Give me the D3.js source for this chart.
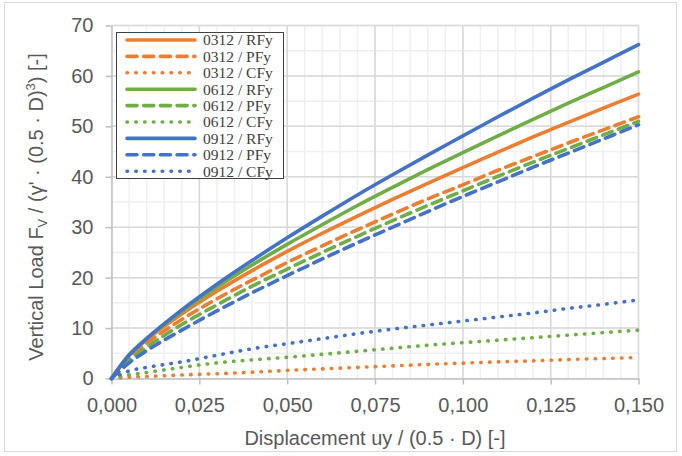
<!DOCTYPE html>
<html>
<head>
<meta charset="utf-8">
<script src="https://cdn.jsdelivr.net/npm/d3@7"></script>
<style>
  body { margin: 0; background: #fff; }
</style>
</head>
<body>
<svg></svg>
<script>
var width = 682;
var height = 456;
var plot = {'left': 111.5, 'right': 638.5, 'top': 25.5, 'bottom': 378.5}

// displacement values (x) shared by every series
var xs = [0, 0.005, 0.01, 0.02, 0.03, 0.04, 0.05, 0.06, 0.07, 0.08, 0.09, 0.10, 0.11, 0.12, 0.13, 0.14, 0.15]

var rfy0312 = [0, 4.6, 7.7, 12.8, 17.3, 21.4, 25.2, 28.8, 32.2, 35.5, 38.7, 41.8, 44.9, 47.9, 50.8, 53.6, 56.4]
var pfy0312 = [0, 4.2, 7.0, 11.7, 15.8, 19.5, 23.0, 26.3, 29.5, 32.6, 35.6, 38.4, 41.3, 44.0, 46.7, 49.3, 51.9]
var cfy0312 = [0, 0.25, 0.4, 0.7, 0.95, 1.25, 1.6, 1.9, 2.2, 2.5, 2.8, 3.05, 3.3, 3.5, 3.75, 3.95, 4.15]
var rfy0612 = [0, 4.7, 7.9, 13.3, 18.1, 22.5, 26.6, 30.5, 34.3, 37.9, 41.4, 44.8, 48.1, 51.4, 54.6, 57.7, 60.8]
var pfy0612 = [0, 3.6, 6.2, 10.7, 14.6, 18.3, 21.7, 25.0, 28.2, 31.3, 34.3, 37.2, 40.1, 42.9, 45.6, 48.3, 51.0]
var cfy0612 = [0, 0.7, 1.2, 2.2, 3.1, 3.7, 4.2, 4.8, 5.4, 6.0, 6.6, 7.1, 7.6, 8.1, 8.6, 9.1, 9.6]
var rfy0912 = [0, 4.6, 7.9, 13.6, 18.7, 23.4, 27.9, 32.2, 36.4, 40.4, 44.3, 48.1, 51.9, 55.6, 59.2, 62.7, 66.2]
var pfy0912 = [0, 3.1, 5.5, 9.6, 13.4, 17.0, 20.4, 23.7, 26.9, 30.0, 33.1, 36.1, 39.0, 41.9, 44.7, 47.5, 50.3]
var cfy0912 = [0, 1.5, 2.2, 3.3, 4.6, 5.9, 6.9, 7.9, 8.9, 9.8, 10.6, 11.4, 12.2, 13.0, 13.9, 14.7, 15.6]

var seriesNames = ['0312 / RFy', '0312 / PFy', '0312 / CFy',
                   '0612 / RFy', '0612 / PFy', '0612 / CFy',
                   '0912 / RFy', '0912 / PFy', '0912 / CFy']
var seriesValues = [rfy0312, pfy0312, cfy0312, rfy0612, pfy0612, cfy0612, rfy0912, pfy0912, cfy0912]

var xTicks = [0, 0.025, 0.05, 0.075, 0.1, 0.125, 0.15]
var yTicks = [0, 10, 20, 30, 40, 50, 60, 70]

var colors = {'0312': '#ED7D31', '0612': '#70AD47', '0912': '#4472C4'}
var dashes = {'RFy': null, 'PFy': '10 6.7', 'CFy': '0.5 8.3'}

var x = d3.scaleLinear()
    .domain([0, 0.15])
    .range([plot.left, plot.right])

var y = d3.scaleLinear()
    .domain([0, 70])
    .range([plot.bottom, plot.top])

const locale = d3.formatLocale({decimal: ',', thousands: '.', grouping: [3], currency: ['', '']})
const fmt = locale.format('.3f')

const svg = d3.select('svg')
    .attr('width', width)
    .attr('height', height)
    .attr('font-family', '"Liberation Sans", Arial, sans-serif')

// chart frame
svg.append('rect')
    .attr('x', 4.5).attr('y', 2.5)
    .attr('width', 672).attr('height', 449)
    .attr('fill', '#fff')
    .attr('stroke', '#d9d9d9')

// minor gridlines
svg.append('g').selectAll('line')
    .data(x.ticks(30))
    .join('line')
    .attr('x1', d => x(d)).attr('x2', d => x(d))
    .attr('y1', plot.top).attr('y2', plot.bottom)
    .attr('stroke', '#f0f0f0').attr('stroke-width', 1.5)

svg.append('g').selectAll('line')
    .data(y.ticks(14))
    .join('line')
    .attr('x1', plot.left).attr('x2', plot.right)
    .attr('y1', d => y(d)).attr('y2', d => y(d))
    .attr('stroke', '#f0f0f0').attr('stroke-width', 1.5)

// major gridlines
svg.append('g').selectAll('line')
    .data(xTicks.slice(1))
    .join('line')
    .attr('x1', d => x(d)).attr('x2', d => x(d))
    .attr('y1', plot.top).attr('y2', plot.bottom)
    .attr('stroke', '#d9d9d9').attr('stroke-width', 1.5)

svg.append('g').selectAll('line')
    .data(yTicks.slice(1))
    .join('line')
    .attr('x1', plot.left).attr('x2', plot.right)
    .attr('y1', d => y(d)).attr('y2', d => y(d))
    .attr('stroke', '#d9d9d9').attr('stroke-width', 1.5)

// axes
const xAxis = d3.axisBottom(x).tickValues(xTicks).tickFormat(fmt).tickSize(6).tickSizeOuter(0).tickPadding(13)
const yAxis = d3.axisLeft(y).tickValues(yTicks).tickSize(6).tickSizeOuter(0).tickPadding(12)

const gx = svg.append('g')
    .attr('transform', `translate(0,${plot.bottom})`)
    .call(xAxis)
const gy = svg.append('g')
    .attr('transform', `translate(${plot.left},0)`)
    .call(yAxis)

for (const g of [gx, gy]) {
  g.select('.domain').attr('stroke', '#bfbfbf').attr('stroke-width', 1.5)
  g.selectAll('.tick line').attr('stroke', '#bfbfbf').attr('stroke-width', 1.5)
  g.selectAll('.tick text').attr('fill', '#595959').attr('font-size', 20)
    .attr('font-family', '"Liberation Sans", Arial, sans-serif')
}

// series
const line = d3.line()
    .x((d, i) => x(xs[i]))
    .y(d => y(d))
    .curve(d3.curveMonotoneX)

svg.append('g').selectAll('path')
    .data(seriesValues)
    .join('path')
    .attr('d', line)
    .attr('fill', 'none')
    .attr('stroke', (d, i) => colors[seriesNames[i].slice(0, 4)])
    .attr('stroke-width', 3.6)
    .attr('stroke-linecap', 'round')
    .attr('stroke-dasharray', (d, i) => dashes[seriesNames[i].slice(7)])

// axis titles
svg.append('text')
    .attr('x', 375).attr('y', 445)
    .attr('text-anchor', 'middle')
    .attr('font-size', 20)
    .attr('fill', '#595959')
    .text('Displacement uy / (0.5 · D) [-]')

const yt = svg.append('text')
    .attr('transform', 'translate(42.5,207) rotate(-90)')
    .attr('text-anchor', 'middle')
    .attr('font-size', 20)
    .attr('fill', '#595959')
yt.append('tspan').text('Vertical Load F')
yt.append('tspan').attr('font-size', 13).attr('dy', 4).text('V')
yt.append('tspan').attr('dy', -4).text(" / (γ' · (0.5 · D)")
yt.append('tspan').attr('font-size', 13).attr('dy', -8).text('3')
yt.append('tspan').attr('dy', 8).text(') [-]')

// legend
const legend = svg.append('g')
legend.append('rect')
    .attr('x', 116.5).attr('y', 32.5)
    .attr('width', 167).attr('height', 146)
    .attr('fill', '#fff')
    .attr('stroke', '#404040')
    .attr('stroke-width', 1)

const item = legend.selectAll('g')
    .data(seriesNames)
    .join('g')
    .attr('transform', (d, i) => `translate(0,${40 + i * 16.4})`)

item.append('line')
    .attr('x1', 127).attr('x2', 195)
    .attr('stroke', d => colors[d.slice(0, 4)])
    .attr('stroke-width', 3.6)
    .attr('stroke-linecap', 'round')
    .attr('stroke-dasharray', d => dashes[d.slice(7)])

item.append('text')
    .attr('x', 203)
    .attr('dy', '0.35em')
    .attr('font-family', '"Liberation Serif", "Times New Roman", serif')
    .attr('font-size', 15.5)
    .attr('fill', '#404040')
    .text(d => d)
</script>
</body>
</html>
